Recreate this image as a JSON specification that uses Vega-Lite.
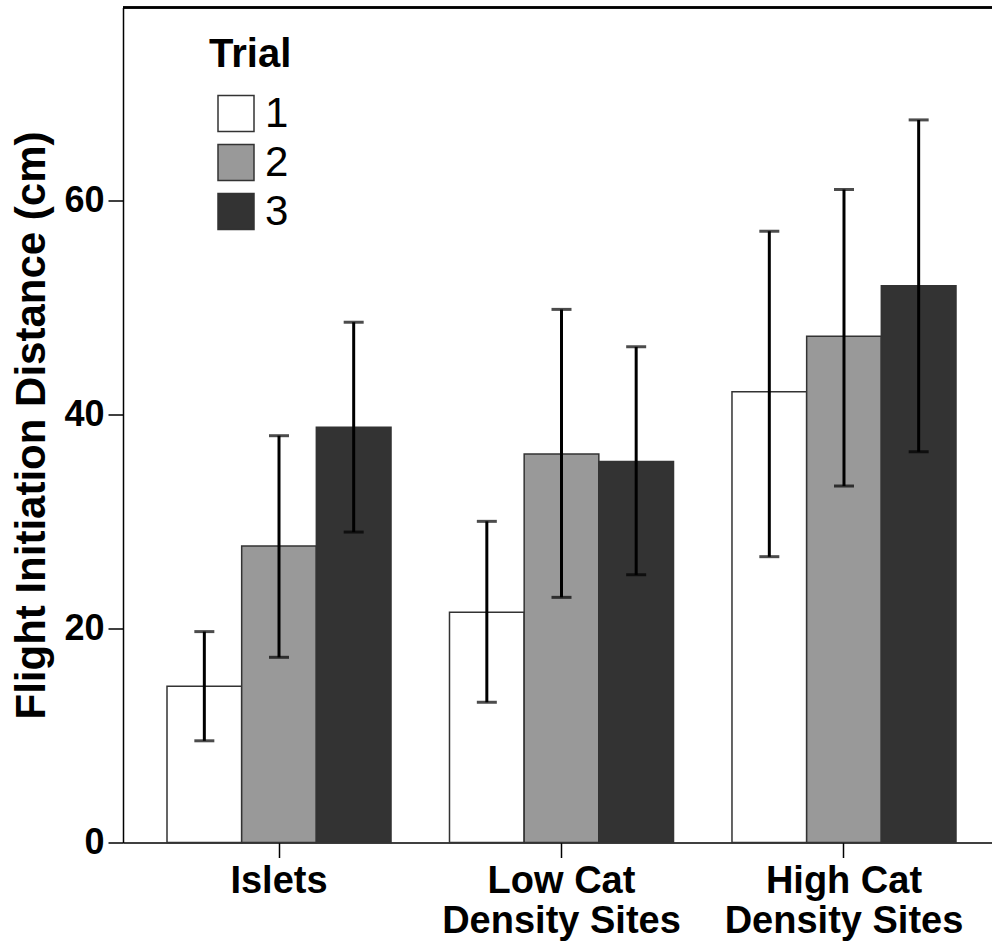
{
  "$schema": "https://vega.github.io/schema/vega-lite/v6.json",
  "width": 869,
  "height": 835,
  "autosize": {"type": "none"},
  "padding": {"left": 123, "top": 7.5, "right": 0, "bottom": 105.5},
  "background": "white",
  "config": {
    "view": {"stroke": null},
    "font": "Liberation Sans",
    "axis": {"domainColor": "black", "tickColor": "black", "labelColor": "black", "titleColor": "black", "grid": false, "domainWidth": 1.5, "tickWidth": 1.5, "labelFont": "Liberation Sans", "titleFont": "Liberation Sans"}
  },
  "data": {
    "values": [
      {"site": "Islets", "trial": "1", "mean": 14.6, "lo": 9.5, "hi": 19.7},
      {"site": "Islets", "trial": "2", "mean": 27.7, "lo": 17.3, "hi": 38.0},
      {"site": "Islets", "trial": "3", "mean": 38.8, "lo": 29.0, "hi": 48.6},
      {"site": "Low Cat Density Sites", "trial": "1", "mean": 21.5, "lo": 13.1, "hi": 30.0},
      {"site": "Low Cat Density Sites", "trial": "2", "mean": 36.3, "lo": 22.9, "hi": 49.8},
      {"site": "Low Cat Density Sites", "trial": "3", "mean": 35.6, "lo": 25.0, "hi": 46.3},
      {"site": "High Cat Density Sites", "trial": "1", "mean": 42.1, "lo": 26.7, "hi": 57.1},
      {"site": "High Cat Density Sites", "trial": "2", "mean": 47.3, "lo": 33.3, "hi": 61.0},
      {"site": "High Cat Density Sites", "trial": "3", "mean": 52.0, "lo": 36.5, "hi": 67.5}
    ]
  },
  "encoding": {
    "x": {
      "field": "site", "type": "nominal", "sort": null,
      "scale": {"paddingInner": 0.207, "paddingOuter": 0.1416, "align": 0.55},
      "axis": {
        "title": null, "labelAngle": 0, "labelFontSize": 38, "labelFontWeight": "bold",
        "labelLineHeight": 40, "tickSize": 15, "labelPadding": 5, "labelLimit": 0, "labelOverlap": false,
        "labelExpr": "datum.value == 'Islets' ? 'Islets' : (datum.value == 'Low Cat Density Sites' ? ['Low Cat', 'Density Sites'] : ['High Cat', 'Density Sites'])"
      }
    },
    "xOffset": {"field": "trial", "type": "nominal", "scale": {"paddingInner": 0, "paddingOuter": 0}}
  },
  "layer": [
    {
      "mark": {"type": "bar", "stroke": "#333333", "strokeWidth": 1.5},
      "encoding": {
        "y": {
          "field": "mean", "type": "quantitative",
          "scale": {"domain": [0, 78], "nice": false, "zero": true},
          "axis": {
            "title": "Flight Initiation Distance (cm)", "titleFontSize": 42, "titleFontWeight": "bold",
            "titlePadding": 10, "values": [0, 20, 40, 60], "labelFontSize": 36, "labelFontWeight": "bold",
            "tickSize": 15, "labelPadding": 4
          }
        },
        "fill": {
          "field": "trial", "type": "nominal",
          "scale": {"domain": ["1", "2", "3"], "range": ["#ffffff", "#999999", "#333333"]},
          "legend": {
            "orient": "none", "legendX": 86, "legendY": 27,
            "title": "Trial", "titleFontSize": 40, "titleFontWeight": "bold", "titleColor": "black", "titlePadding": 18,
            "labelFontSize": 42, "labelColor": "black", "labelOffset": 8,
            "symbolType": "square", "symbolSize": 1296, "symbolStrokeColor": "#333333", "symbolStrokeWidth": 1.5,
            "symbolOffset": 6,
            "rowPadding": 7
          }
        }
      }
    },
    {
      "mark": {"type": "rule", "color": "black", "strokeWidth": 3},
      "encoding": {
        "y": {"field": "lo", "type": "quantitative"},
        "y2": {"field": "hi"}
      }
    },
    {
      "mark": {"type": "tick", "color": "black", "thickness": 3, "size": 20},
      "encoding": {"y": {"field": "lo", "type": "quantitative"}}
    },
    {
      "mark": {"type": "tick", "color": "black", "thickness": 3, "size": 20},
      "encoding": {"y": {"field": "hi", "type": "quantitative"}}
    },
    {
      "mark": {"type": "rule", "color": "black", "strokeWidth": 1.5},
      "encoding": {"y": {"datum": 78}, "x": null, "xOffset": null}
    }
  ]
}
